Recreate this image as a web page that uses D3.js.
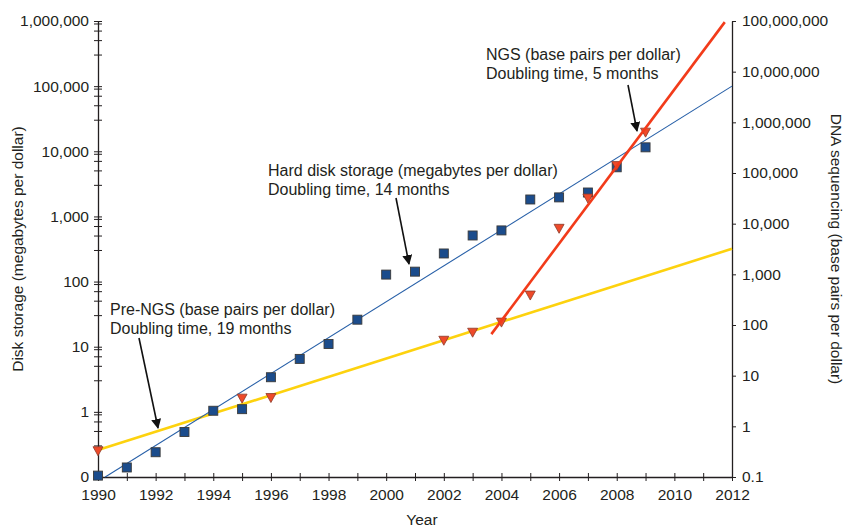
<!DOCTYPE html>
<html>
<head>
<meta charset="utf-8">
<script src="https://cdn.jsdelivr.net/npm/d3@7"></script>
<style>
    body { margin: 0; background: #fff; }
    svg text { font-family: "Liberation Sans", Arial, Helvetica, sans-serif; fill: #231f20; }
</style>
</head>
<body>
<div id="chart"></div>
<script>
// Hard disk storage, megabytes per dollar (left axis)
const diskYears = [1990, 1991, 1992, 1993, 1994, 1995, 1996, 1997, 1998, 1999,
                   2000, 2001, 2002, 2003, 2004, 2005, 2006, 2007, 2008, 2009];
const diskValues = [0.105, 0.14, 0.24, 0.49, 1.04, 1.1, 3.4, 6.5, 11, 26,
                    128, 142, 270, 510, 610, 1820, 1960, 2330, 5680, 11500];

// DNA sequencing, base pairs per dollar (right axis)
const seqYears = [1990, 1995, 1996, 2002, 2003, 2004, 2005, 2006, 2007, 2008, 2009];
const seqValues = [0.33, 3.6, 3.7, 50, 72, 114, 390, 8100, 32000, 140000, 640000];

// fitted trend lines [year, value]
const diskTrend = [[1990.25, 0.1], [2012, 100000]];
const preNgsTrend = [[1990, 0.34], [2012, 3200]];
const ngsTrend = [[2003.65, 66], [2011.75, 9.5e7]];

const leftTicks = [0.1, 1, 10, 100, 1000, 10000, 100000, 1000000];
const rightTicks = [0.1, 1, 10, 100, 1000, 10000, 100000, 1000000, 10000000, 100000000];
const yearTicks = d3.range(1990, 2013);

const notes = [
    { lines: ["NGS (base pairs per dollar)", "Doubling time, 5 months"], x: 486, y: 60,
      from: [628, 85], to: [637, 131] },
    { lines: ["Hard disk storage (megabytes per dollar)", "Doubling time, 14 months"], x: 268, y: 176,
      from: [396, 198], to: [409, 264] },
    { lines: ["Pre-NGS (base pairs per dollar)", "Doubling time, 19 months"], x: 110, y: 315,
      from: [139, 338], to: [158, 428] }
];

const width = 844, height = 529;
const margin = { top: 21, right: 112, bottom: 52, left: 98 };

const svg = d3.select("#chart").append("svg")
    .attr("width", width)
    .attr("height", height);

const x = d3.scaleLinear().domain([1990, 2012]).range([margin.left, width - margin.right]);
const yL = d3.scaleLog().domain([0.1, 1e6]).range([height - margin.bottom, margin.top]);
const yR = d3.scaleLog().domain([0.1, 1e8]).range([height - margin.bottom, margin.top]);

const fmt = d3.format(",");

svg.append("defs").append("marker")
    .attr("id", "arrow")
    .attr("viewBox", "0 0 10 10")
    .attr("refX", 9).attr("refY", 5)
    .attr("markerWidth", 10).attr("markerHeight", 10)
    .attr("markerUnits", "userSpaceOnUse")
    .attr("orient", "auto")
    .append("path")
    .attr("d", "M0,0L10,5L0,10z")
    .attr("fill", "#111");

// left axis, with minor ticks at 3, 5, 7, 9
const minorL = [];
leftTicks.forEach(v => [3, 5, 7, 9].forEach(m => { if (v * m < 1e6) minorL.push(v * m); }));

const gL = svg.append("g")
    .attr("transform", `translate(${margin.left},0)`)
    .call(d3.axisLeft(yL).tickValues(leftTicks).tickFormat(d => d < 1 ? "0" : fmt(d)).tickSizeOuter(0));
gL.selectAll(".tick line").attr("x1", 4).attr("x2", -4);
gL.append("g").selectAll("line").data(minorL).join("line")
    .attr("x1", -4).attr("x2", 4)
    .attr("y1", d => yL(d)).attr("y2", d => yL(d))
    .attr("stroke", "#231f20");

const gR = svg.append("g")
    .attr("transform", `translate(${width - margin.right},0)`)
    .call(d3.axisRight(yR).tickValues(rightTicks).tickFormat(d => d < 1 ? "0.1" : fmt(d)).tickSize(4).tickSizeOuter(0));

const gX = svg.append("g")
    .attr("transform", `translate(0,${height - margin.bottom})`)
    .call(d3.axisBottom(x).tickValues(yearTicks).tickFormat(d => d % 2 === 0 ? d : "").tickSizeOuter(0));
gX.selectAll(".tick line").attr("y1", -4).attr("y2", 4);

[gL, gR, gX].forEach(g => {
    g.selectAll(".domain").attr("stroke", "#231f20").attr("stroke-width", 1.3);
    g.selectAll(".tick line").attr("stroke", "#231f20");
    g.selectAll("text").attr("font-size", 15.5).attr("fill", "#231f20");
});
gL.selectAll(".tick text").attr("x", -9);
gR.selectAll(".tick text").attr("x", 10);
gX.selectAll(".tick text").attr("y", 12);

// axis titles
svg.append("text")
    .attr("transform", `translate(23,${(margin.top + height - margin.bottom) / 2}) rotate(-90)`)
    .attr("text-anchor", "middle")
    .attr("font-size", 15.5)
    .text("Disk storage (megabytes per dollar)");

svg.append("text")
    .attr("transform", `translate(831,${(margin.top + height - margin.bottom) / 2}) rotate(90)`)
    .attr("text-anchor", "middle")
    .attr("font-size", 15.5)
    .text("DNA sequencing (base pairs per dollar)");

svg.append("text")
    .attr("x", 422).attr("y", 525)
    .attr("text-anchor", "middle")
    .attr("font-size", 15.5)
    .text("Year");

// trend lines
const lineL = d3.line().x(d => x(d[0])).y(d => yL(d[1]));
const lineR = d3.line().x(d => x(d[0])).y(d => yR(d[1]));

svg.append("path").attr("d", lineR(preNgsTrend))
    .attr("fill", "none").attr("stroke", "#fdd20e").attr("stroke-width", 2.6);

svg.append("path").attr("d", lineL(diskTrend))
    .attr("fill", "none").attr("stroke", "#2860a8").attr("stroke-width", 1.1);

// markers
svg.append("g").selectAll("rect")
    .data(diskYears.map((yr, i) => [yr, diskValues[i]]))
    .join("rect")
    .attr("x", d => x(d[0]) - 4.5)
    .attr("y", d => yL(d[1]) - 4.5)
    .attr("width", 9).attr("height", 9)
    .attr("fill", "#1b4c8c")
    .attr("stroke", "#3a3a3a").attr("stroke-width", 0.9);

svg.append("g").selectAll("path")
    .data(seqYears.map((yr, i) => [yr, seqValues[i]]))
    .join("path")
    .attr("transform", d => `translate(${x(d[0])},${yR(d[1])})`)
    .attr("d", "M-5,-4L5,-4L0,5z")
    .attr("fill", "#ee4a2a")
    .attr("stroke", "#8c3a28").attr("stroke-width", 0.8);

svg.append("path").attr("d", lineR(ngsTrend))
    .attr("fill", "none").attr("stroke", "#f23b1a").attr("stroke-width", 2.6);

// annotations
notes.forEach(n => {
    const t = svg.append("text").attr("font-size", 16);
    n.lines.forEach((s, i) => {
        t.append("tspan").attr("x", n.x).attr("y", n.y + i * 19).text(s);
    });
    svg.append("line")
        .attr("x1", n.from[0]).attr("y1", n.from[1])
        .attr("x2", n.to[0]).attr("y2", n.to[1])
        .attr("stroke", "#111").attr("stroke-width", 1.6)
        .attr("marker-end", "url(#arrow)");
});
</script>
</body>
</html>
